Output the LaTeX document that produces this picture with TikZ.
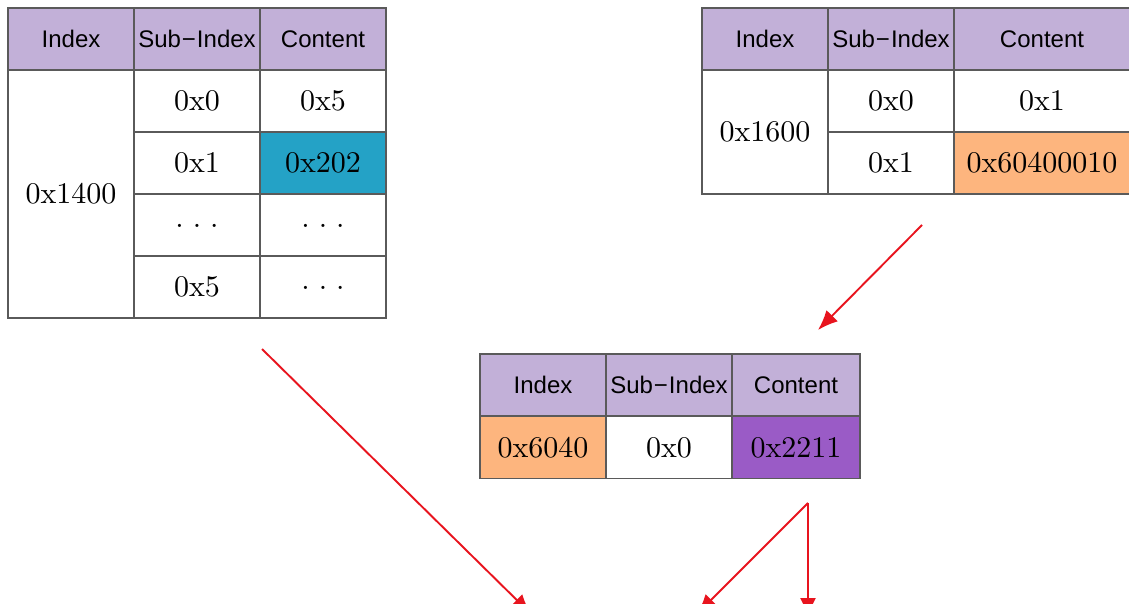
\documentclass[tikz,border=0pt]{standalone}
\usepackage{fontspec}
\newfontfamily\hdrfont{Liberation Sans}
\newfontfamily\numfont{lmroman10-regular.otf}
\usetikzlibrary{arrows.meta}
\definecolor{hdrpurple}{HTML}{C2B0D8}
\definecolor{cellcyan}{HTML}{24A2C6}
\definecolor{cellorange}{HTML}{FDB57E}
\definecolor{cellpurple}{HTML}{9A5BC6}
\definecolor{gridgray}{HTML}{5A5A5A}
\definecolor{linkred}{HTML}{E8141E}
\tikzset{
  cell/.style={draw=gridgray, line width=1.2pt, inner sep=0pt, minimum width=126pt, minimum height=62pt, anchor=center, font=\numfont\fontsize{30}{36}\selectfont},
  hdr/.style={cell, fill=hdrpurple, font=\hdrfont\fontsize{24}{28}\selectfont},
  link/.style={draw=linkred, line width=1.9pt},
  tip/.style={-{Latex[length=20pt,width=16pt]}}
}
\newcommand{\subidx}{Sub\kern1pt\char"2212\kern1pt Index}
\newcommand{\tdots}{\raisebox{-4pt}{.\kern9pt.\kern9pt.}}
\begin{document}
\begin{tikzpicture}[x=1pt,y=-1pt]
\useasboundingbox (0,0) rectangle (1129,603);
\clip (0,0) rectangle (1129,603);
\fill[white] (0,0) rectangle (1129,603);
% Table 1
\node[hdr] (t1h1) at (71,39) {Index};
\node[hdr] (t1h2) at (197,39) {\subidx};
\node[hdr] (t1h3) at (323,39) {Content};
\node[cell, minimum height=248pt] (t1idx) at (71,194) {0x1400};
\node[cell] (t1s0) at (197,101) {0x0};
\node[cell] (t1c0) at (323,101) {0x5};
\node[cell] (t1s1) at (197,163) {0x1};
\node[cell, fill=cellcyan] (t1c1) at (323,163) {0x202};
\node[cell] (t1s2) at (197,225) {\tdots};
\node[cell] (t1c2) at (323,225) {\tdots};
\node[cell] (t1s3) at (197,287) {0x5};
\node[cell] (t1c3) at (323,287) {\tdots};
% Table 2
\node[hdr] (t2h1) at (765,39) {Index};
\node[hdr] (t2h2) at (891,39) {\subidx};
\node[hdr, minimum width=176pt] (t2h3) at (1042,39) {Content};
\node[cell, minimum height=124pt] (t2idx) at (765,132) {0x1600};
\node[cell] (t2s0) at (891,101) {0x0};
\node[cell, minimum width=176pt] (t2c0) at (1042,101) {0x1};
\node[cell] (t2s1) at (891,163) {0x1};
\node[cell, minimum width=176pt, fill=cellorange] (t2c1) at (1042,163) {0x60400010};
% Table 3
\node[hdr] (t3h1) at (543,385) {Index};
\node[hdr] (t3h2) at (669,385) {\subidx};
\node[hdr, minimum width=128pt] (t3h3) at (796,385) {Content};
\node[cell, fill=cellorange] (t3i) at (543,447.5) {0x6040};
\node[cell] (t3s) at (669,447.5) {0x0};
\node[cell, minimum width=128pt, fill=cellpurple] (t3c) at (796,447.5) {0x2211};
% connectors
\coordinate (a1s) at (922,225);
\coordinate (a1e) at (818,330);
\coordinate (l1s) at (262,349);
\coordinate (l1e) at (531,614);
\coordinate (apex) at (808,503);
\coordinate (l2e) at (697,614);
\coordinate (l3e) at (808,618);
\draw[link, tip] (a1s) -- (a1e);
\draw[link, tip] (l1s) -- (l1e);
\draw[link, tip] (apex) -- (l2e);
\draw[link, tip] (apex) -- (l3e);
\end{tikzpicture}
\end{document}
